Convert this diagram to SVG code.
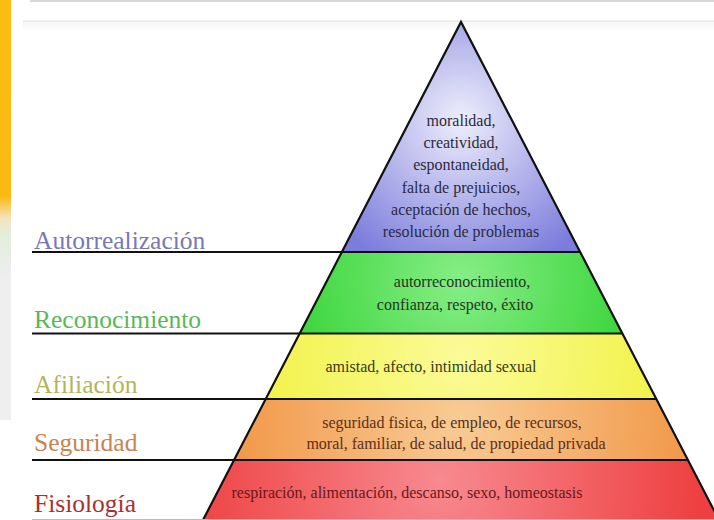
<svg xmlns="http://www.w3.org/2000/svg" width="714" height="520" viewBox="0 0 714 520">
<defs>
<radialGradient id="gTop" cx="461" cy="120" r="160" gradientUnits="userSpaceOnUse"><stop offset="0" stop-color="#eeeefc"/><stop offset="1" stop-color="#7c7cdc"/></radialGradient>
<radialGradient id="gGreen" cx="461" cy="280" r="180" gradientUnits="userSpaceOnUse"><stop offset="0" stop-color="#86ee86"/><stop offset="1" stop-color="#38d438"/></radialGradient>
<radialGradient id="gYellow" cx="461" cy="355" r="200" gradientUnits="userSpaceOnUse"><stop offset="0" stop-color="#fbfb98"/><stop offset="1" stop-color="#f2f24c"/></radialGradient>
<radialGradient id="gOrange" cx="461" cy="420" r="220" gradientUnits="userSpaceOnUse"><stop offset="0" stop-color="#f8cc96"/><stop offset="1" stop-color="#f29a4c"/></radialGradient>
<radialGradient id="gRed" cx="440" cy="480" r="260" gradientUnits="userSpaceOnUse"><stop offset="0" stop-color="#f78a90"/><stop offset="1" stop-color="#ee4040"/></radialGradient>
<linearGradient id="gSide" x1="0" y1="0" x2="0" y2="1"><stop offset="0" stop-color="#fbbf12"/><stop offset="0.7" stop-color="#fbb912"/><stop offset="0.78" stop-color="#f2e4c0"/><stop offset="0.85" stop-color="#e4eee0"/><stop offset="1" stop-color="#eeeeee"/></linearGradient>
<linearGradient id="gShade" x1="0" y1="0" x2="0" y2="1"><stop offset="0" stop-color="#f4f4f4"/><stop offset="1" stop-color="#ffffff"/></linearGradient>
</defs>
<style>
.lbl{font-family:"Liberation Serif","Times New Roman",serif;font-size:25.5px}
.txt{font-family:"Liberation Serif","Times New Roman",serif;font-size:16px;text-anchor:middle}
.band{stroke:none}
.line{stroke:#111;stroke-width:2.2;fill:none}
</style>
<rect x="0" y="0" width="714" height="520" fill="#ffffff"/>
<rect x="0" y="0" width="11" height="280" fill="url(#gSide)"/>
<rect x="0" y="280" width="11" height="140" fill="#efefef"/>
<rect x="30" y="0" width="684" height="2" fill="#c8c8c8" opacity="0.7"/>
<rect x="23" y="21" width="691" height="10" fill="url(#gShade)"/>
<line x1="23" y1="21" x2="714" y2="21" stroke="#e2e2e2" stroke-width="1"/>

<g id="autorrealizacion">
<polygon class="band" points="461,22 580.1,252 341.9,252" fill="url(#gTop)"/>
<text class="lbl" x="34" y="249" fill="#7878b6">Autorrealización</text>
<g class="txt" fill="#2a2a3e">
<text x="461" y="126">moralidad,</text>
<text x="461" y="148">creatividad,</text>
<text x="461" y="170">espontaneidad,</text>
<text x="461" y="193">falta de prejuicios,</text>
<text x="461" y="215">aceptación de hechos,</text>
<text x="461" y="237">resolución de problemas</text>
</g>
</g>

<g id="reconocimiento">
<polygon class="band" points="341.9,252 580.1,252 622.4,333.5 299.6,333.5" fill="url(#gGreen)"/>
<text class="lbl" x="34" y="328" fill="#58b858">Reconocimiento</text>
<g class="txt" fill="#243824">
<text x="462" y="287">autorreconocimiento,</text>
<text x="455" y="310">confianza, respeto, éxito</text>
</g>
</g>

<g id="afiliacion">
<polygon class="band" points="299.6,333.5 622.4,333.5 656.3,399 265.7,399" fill="url(#gYellow)"/>
<text class="lbl" x="34" y="393" fill="#b4b460">Afiliación</text>
<text class="txt" x="431" y="372" fill="#3a3a20">amistad, afecto, intimidad sexual</text>
</g>

<g id="seguridad">
<polygon class="band" points="265.7,399 656.3,399 687.9,460 234.1,460" fill="url(#gOrange)"/>
<text class="lbl" x="34" y="451" fill="#c88452">Seguridad</text>
<g class="txt" fill="#5a3018">
<text x="452" y="428">seguridad fisica, de empleo, de recursos,</text>
<text x="456" y="449">moral, familiar, de salud, de propiedad privada</text>
</g>
</g>

<g id="fisiologia">
<polygon class="band" points="234.1,460 687.9,460 719,520 203,520" fill="url(#gRed)"/>
<text class="lbl" x="34" y="512" fill="#a83030">Fisiología</text>
<text class="txt" x="407" y="498" fill="#6a1818">respiración, alimentación, descanso, sexo, homeostasis</text>
</g>

<g id="connectors">
<polyline class="line" points="203,520 461,22 719,520"/>
<line class="line" x1="32" y1="252" x2="580.1" y2="252"/>
<line class="line" x1="32" y1="333.5" x2="622.4" y2="333.5"/>
<line class="line" x1="32" y1="399" x2="656.3" y2="399"/>
<line class="line" x1="32" y1="460" x2="687.9" y2="460"/>
<line x1="32" y1="519.5" x2="714" y2="519.5" stroke="#bbbbbb" stroke-width="1"/>
</g>
</svg>
